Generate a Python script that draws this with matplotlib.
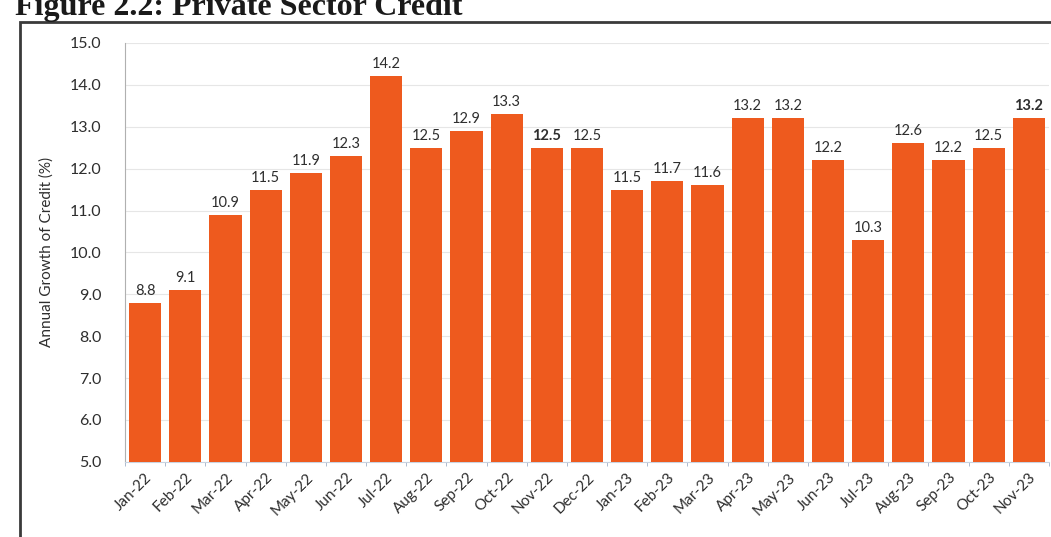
import matplotlib
matplotlib.use('Agg')
import matplotlib.pyplot as plt
from matplotlib.patches import Rectangle

months = ['Jan-22', 'Feb-22', 'Mar-22', 'Apr-22', 'May-22', 'Jun-22', 'Jul-22', 'Aug-22',
          'Sep-22', 'Oct-22', 'Nov-22', 'Dec-22', 'Jan-23', 'Feb-23', 'Mar-23', 'Apr-23',
          'May-23', 'Jun-23', 'Jul-23', 'Aug-23', 'Sep-23', 'Oct-23', 'Nov-23']
growth = [8.8, 9.1, 10.9, 11.5, 11.9, 12.3, 14.2, 12.5, 12.9, 13.3, 12.5, 12.5,
          11.5, 11.7, 11.6, 13.2, 13.2, 12.2, 10.3, 12.6, 12.2, 12.5, 13.2]
bold_labels = ['Nov-22', 'Nov-23']
y_ticks = [5.0, 6.0, 7.0, 8.0, 9.0, 10.0, 11.0, 12.0, 13.0, 14.0, 15.0]

plt.rcParams['font.family'] = ['Lato', 'DejaVu Sans']

fig = plt.figure(figsize=(10.51, 5.37), dpi=100)
ax = fig.add_axes([0.119, 0.14, 0.879, 0.78])

# outer frame of the figure box (runs off the page at right and bottom)
fig.patches.append(Rectangle((0.019, -0.05), 1.2, 1.0 - 0.041 + 0.05,
                             transform=fig.transFigure, fill=False,
                             edgecolor='#3a3a3a', linewidth=2.0))

fig.text(0.014, 1 - 15 / 537, 'Figure 2.2: Private Sector Credit', family='Liberation Serif',
         fontweight='bold', fontsize=23, color='#1a1a1a', va='baseline', ha='left')

x = list(range(len(months)))
ax.bar(x, growth, width=0.8, bottom=0, color='#EE5A1E', zorder=3)

for xi, m, v in zip(x, months, growth):
    weight = 'bold' if m in bold_labels else 'normal'
    ax.text(xi, v + 0.12, f'{v:.1f}', ha='center', va='bottom', fontsize=10.5,
            color='#2e2e2e', fontweight=weight, zorder=4)

ax.set_ylim(5.0, 15.0)
ax.set_xlim(-0.5, len(months) - 0.5)
ax.set_yticks(y_ticks)
ax.set_yticklabels([f'{t:.1f}' for t in y_ticks], fontsize=11.5, color='#2e2e2e')
ax.tick_params(axis='y', length=0, pad=17)
ax.set_xticks(x)
ax.set_xticklabels(months, rotation=45, ha='right', rotation_mode='anchor',
                   fontsize=11, color='#2e2e2e')
ax.set_xticks([i - 0.5 for i in range(len(months) + 1)], minor=True)
ax.tick_params(axis='x', which='minor', length=3, color='#9fb0c8')
ax.tick_params(axis='x', which='major', length=0, pad=6)

ax.set_ylabel('Annual Growth of Credit (%)', fontsize=11, color='#2e2e2e')
ax.yaxis.set_label_coords(-0.077, 0.5)

ax.grid(axis='y', color='#e6e6e6', linewidth=0.8, zorder=0)
for side in ['top', 'right']:
    ax.spines[side].set_visible(False)
ax.spines['left'].set_color('#b0b0b0')
ax.spines['bottom'].set_color('#c9d3e0')

fig.savefig('out.png', dpi=100)
